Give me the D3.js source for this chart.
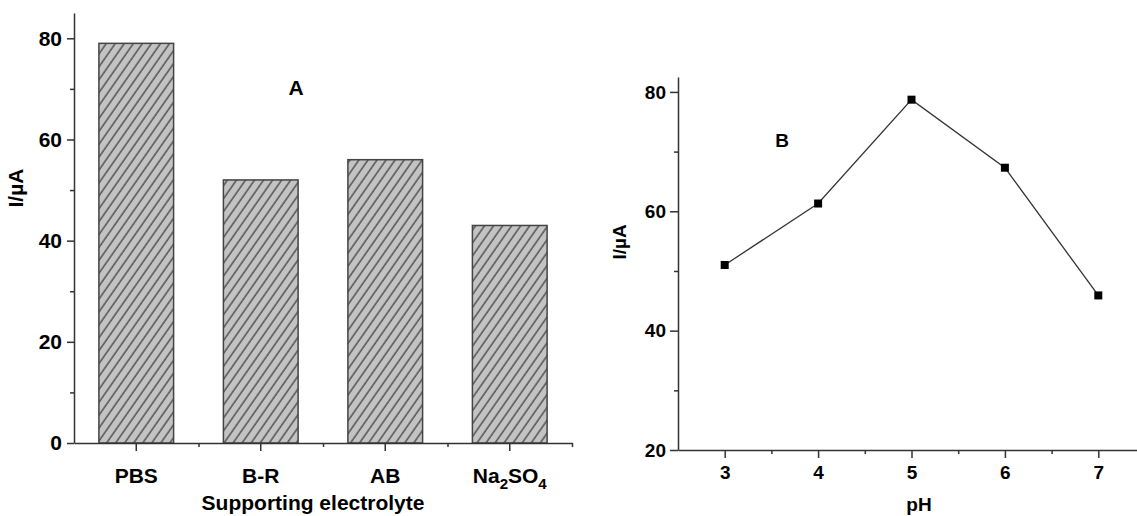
<!DOCTYPE html>
<html>
<head>
<meta charset="utf-8">
<script src="https://cdn.jsdelivr.net/npm/d3@7"></script>
<style>
  body { margin: 0; background: #fff; }
  svg { display: block; font-family: "Liberation Sans", Arial, sans-serif; font-weight: bold; }
  .axis path, .axis line { stroke: #333; stroke-width: 1.5; }
  .axis text { fill: #000; font-weight: bold; font-family: "Liberation Sans", Arial, sans-serif; }
</style>
</head>
<body>
<div id="chart"></div>
<script>
/* DATA */
// panel A: current for each supporting electrolyte
const electrolytes = ["PBS", "B-R", "AB", "Na2SO4"];
const electrolyteCurrent = [79, 52, 56, 43];
const ticksA = [0, 20, 40, 60, 80];
const minorTicksA = [10, 30, 50, 70];

// panel B: current vs pH
const phValues = [3, 4, 5, 6, 7];
const phCurrent = [51.0, 61.3, 78.7, 67.3, 45.9];
const ticksBy = [20, 40, 60, 80];
const minorTicksBy = [30, 50, 70];
const minorTicksBx = [3.5, 4.5, 5.5, 6.5, 7.5];

const width = 1137,
  height = 516;

const svg = d3.select("#chart")
  .append("svg")
  .attr("width", width)
  .attr("height", height);

// hatch pattern for the bars
const defs = svg.append("defs");
defs.append("pattern")
  .attr("id", "hatch")
  .attr("patternUnits", "userSpaceOnUse")
  .attr("width", 7.4)
  .attr("height", 10)
  .attr("patternTransform", "rotate(35)")
  .call(p => p.append("rect").attr("width", 7.4).attr("height", 10).attr("fill", "#c3c3c3"))
  .call(p => p.append("line")
    .attr("x1", 1).attr("x2", 1).attr("y1", 0).attr("y2", 10)
    .attr("stroke", "#2a2a2a").attr("stroke-width", 1.1));

/* PANEL A */
const yA = d3.scaleLinear().domain([0, 85]).range([443, 13]);
const xA = d3.scaleBand().domain(electrolytes).range([74, 572])
  .paddingInner(0.4).paddingOuter(0.2);
const xAminor = d3.scaleLinear().domain([0, 4]).range([74, 572]);

const gA = svg.append("g");

gA.selectAll("rect.bar")
  .data(electrolytes.map((e, i) => ({ name: e, value: electrolyteCurrent[i] })))
  .join("rect")
  .attr("class", "bar")
  .attr("x", d => xA(d.name))
  .attr("width", xA.bandwidth())
  .attr("y", d => yA(d.value))
  .attr("height", d => yA(0) - yA(d.value))
  .attr("fill", "url(#hatch)")
  .attr("stroke", "#444")
  .attr("stroke-width", 1.5);

// minor ticks first, then major axes on top
gA.append("g")
  .attr("class", "axis")
  .attr("transform", "translate(74,0)")
  .call(d3.axisLeft(yA).tickValues(minorTicksA).tickSize(4).tickFormat(""))
  .call(g => g.select(".domain").remove());

gA.append("g")
  .attr("class", "axis")
  .attr("transform", "translate(0,443)")
  .call(d3.axisBottom(xAminor).tickValues([1, 2, 3, 4]).tickSize(4).tickFormat(""))
  .call(g => g.select(".domain").remove());

gA.append("g")
  .attr("class", "axis")
  .attr("transform", "translate(74,0)")
  .call(d3.axisLeft(yA).tickValues(ticksA).tickSize(7).tickSizeOuter(0).tickPadding(5))
  .call(g => g.selectAll("text").attr("font-size", 21));

const xAxisA = gA.append("g")
  .attr("class", "axis")
  .attr("transform", "translate(0,443)")
  .call(d3.axisBottom(xA).tickSize(8).tickSizeOuter(0).tickPadding(17));
xAxisA.selectAll("text").attr("font-size", 21);

// Na2SO4 with subscripts
xAxisA.selectAll(".tick text")
  .filter(d => d === "Na2SO4")
  .text(null)
  .call(t => {
    t.append("tspan").text("Na");
    t.append("tspan").attr("font-size", 15).attr("dy", 6).text("2");
    t.append("tspan").attr("dy", -6).text("SO");
    t.append("tspan").attr("font-size", 15).attr("dy", 6).text("4");
  });

gA.append("text")
  .attr("x", 313).attr("y", 510)
  .attr("text-anchor", "middle")
  .attr("font-size", 21)
  .text("Supporting electrolyte");

gA.append("text")
  .attr("transform", "translate(23,188) rotate(-90)")
  .attr("text-anchor", "middle")
  .attr("font-size", 21)
  .text("I/\u00b5A");

gA.append("text")
  .attr("x", 296).attr("y", 95)
  .attr("text-anchor", "middle")
  .attr("font-size", 21)
  .text("A");

/* PANEL B */
const yB = d3.scaleLinear().domain([20, 82.5]).range([450, 77]);
const xB = d3.scaleLinear().domain([2.5, 7.5]).range([678, 1145]);

const gB = svg.append("g");

gB.append("g")
  .attr("class", "axis")
  .attr("transform", "translate(678,0)")
  .call(d3.axisLeft(yB).tickValues(minorTicksBy).tickSize(4).tickFormat(""))
  .call(g => g.select(".domain").remove());

gB.append("g")
  .attr("class", "axis")
  .attr("transform", "translate(0,450)")
  .call(d3.axisBottom(xB).tickValues(minorTicksBx).tickSize(4).tickFormat(""))
  .call(g => g.select(".domain").remove());

gB.append("g")
  .attr("class", "axis")
  .attr("transform", "translate(678,0)")
  .call(d3.axisLeft(yB).tickValues(ticksBy).tickSize(8).tickSizeOuter(0).tickPadding(4))
  .call(g => g.selectAll("text").attr("font-size", 19));

gB.append("g")
  .attr("class", "axis")
  .attr("transform", "translate(0,450)")
  .call(d3.axisBottom(xB).tickValues(phValues).tickSize(8).tickSizeOuter(0).tickPadding(8)
    .tickFormat(d3.format("d")))
  .call(g => g.selectAll("text").attr("font-size", 19));

const phData = phValues.map((p, i) => ({ ph: p, value: phCurrent[i] }));

const lineFunc = d3.line()
  .x(d => xB(d.ph))
  .y(d => yB(d.value));

gB.append("path")
  .datum(phData)
  .attr("d", lineFunc)
  .attr("fill", "none")
  .attr("stroke", "#333")
  .attr("stroke-width", 1.3);

gB.selectAll("rect.dot")
  .data(phData)
  .join("rect")
  .attr("class", "dot")
  .attr("x", d => xB(d.ph) - 4)
  .attr("y", d => yB(d.value) - 4)
  .attr("width", 8)
  .attr("height", 8)
  .attr("fill", "#000");

gB.append("text")
  .attr("x", 919).attr("y", 511)
  .attr("text-anchor", "middle")
  .attr("font-size", 19)
  .text("pH");

gB.append("text")
  .attr("transform", "translate(626,242) rotate(-90)")
  .attr("text-anchor", "middle")
  .attr("font-size", 19)
  .text("I/\u00b5A");

gB.append("text")
  .attr("x", 782).attr("y", 147)
  .attr("text-anchor", "middle")
  .attr("font-size", 19)
  .text("B");
</script>
</body>
</html>
